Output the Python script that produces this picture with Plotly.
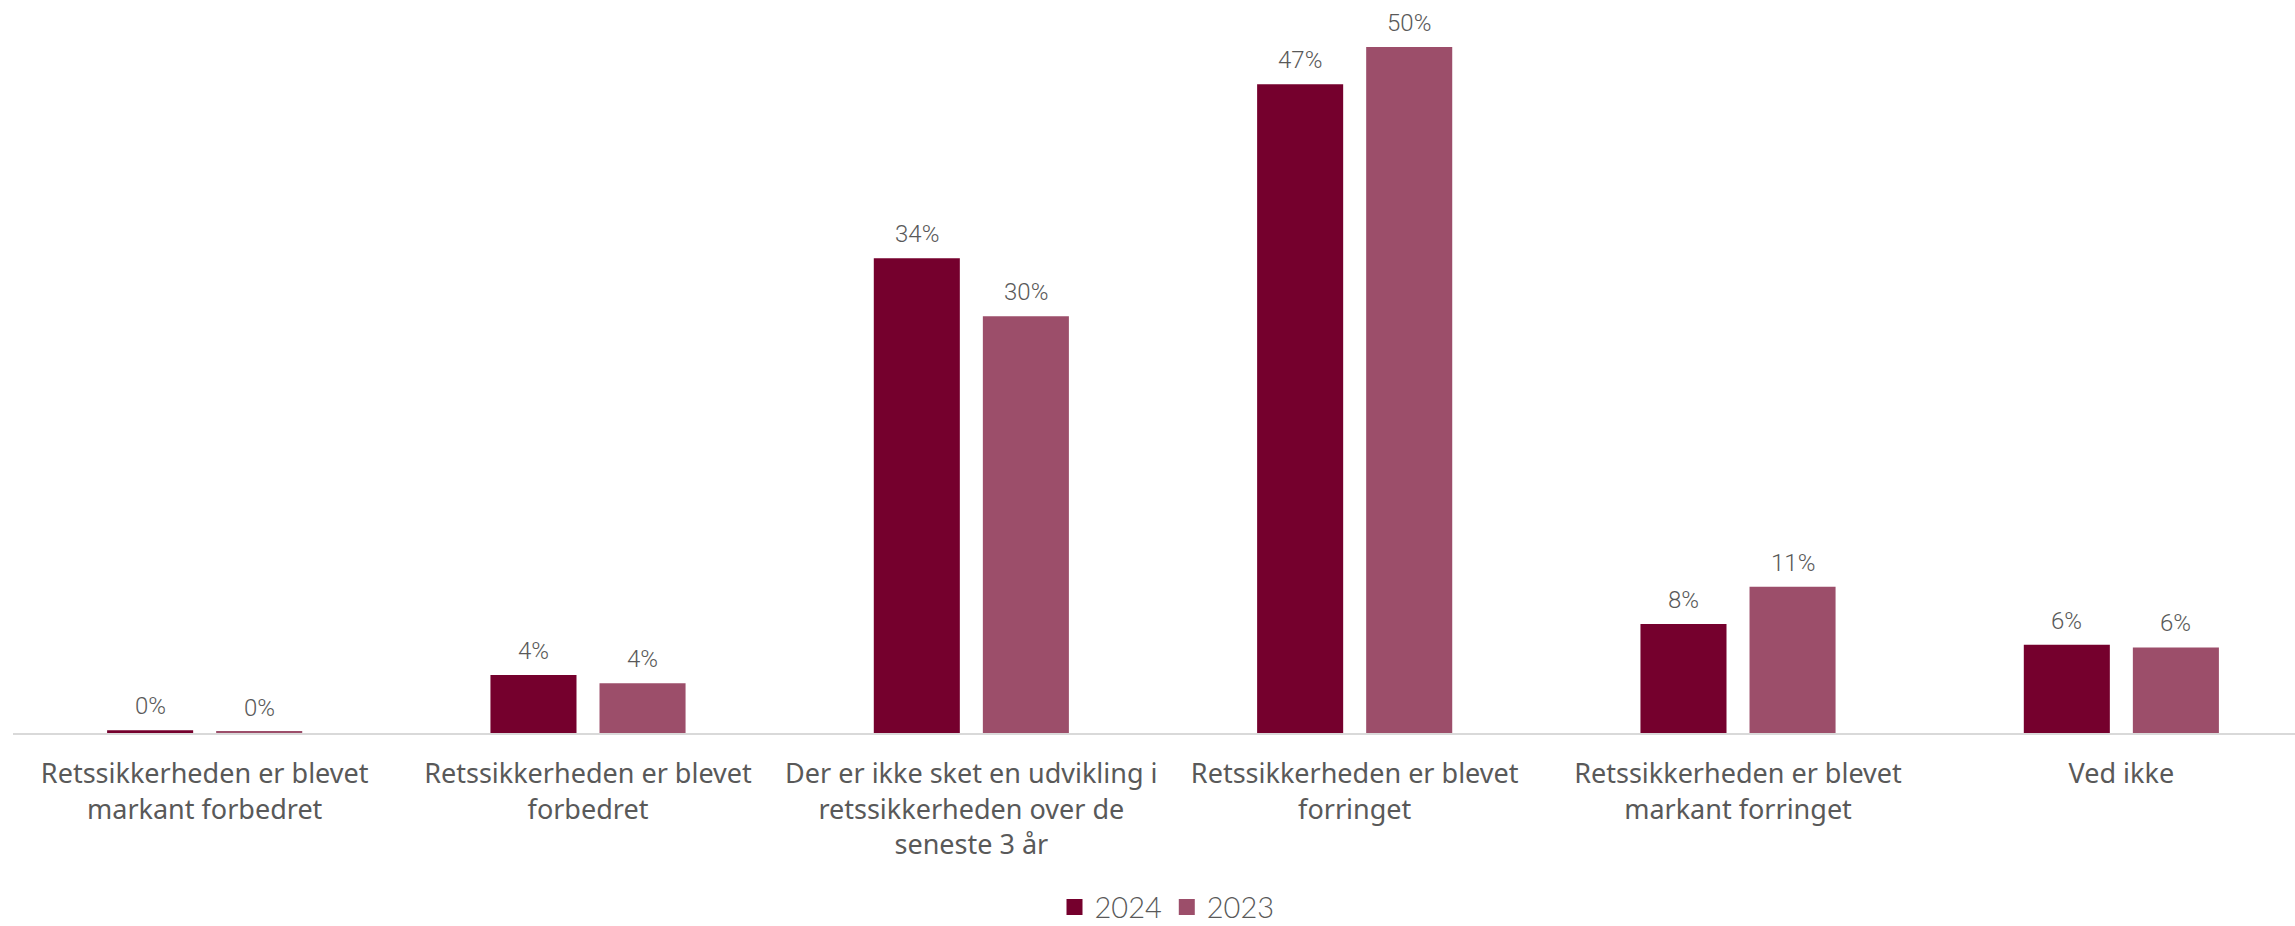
import plotly.graph_objects as go

categories = [
    "Retssikkerheden er blevet<br>markant forbedret",
    "Retssikkerheden er blevet<br>forbedret",
    "Der er ikke sket en udvikling i<br>retssikkerheden over de<br>seneste 3 år",
    "Retssikkerheden er blevet<br>forringet",
    "Retssikkerheden er blevet<br>markant forringet",
    "Ved ikke",
]
values_2024 = [0.2, 4.2, 34.4, 47.0, 7.9, 6.4]
values_2023 = [0.1, 3.6, 30.2, 49.7, 10.6, 6.2]
series_names = ["2024", "2023"]
colors = ["#75002D", "#9C4E6A"]

BARGAP = 0.431
xs = list(range(len(categories)))

fig = go.Figure()
annotations = []
n = 2
for i, (name, vals, col) in enumerate(zip(series_names, [values_2024, values_2023], colors)):
    fig.add_trace(go.Bar(
        x=xs, y=vals, name=name, showlegend=False,
        marker=dict(color=col, line=dict(width=0)),
    ))
    # legend-only entry with a larger square swatch
    fig.add_trace(go.Scatter(
        x=[None], y=[None], mode="markers", name=name, showlegend=True,
        marker=dict(symbol="square", size=18, color=col),
    ))
    off = (i - (n - 1) / 2) * (1 - BARGAP) / n
    for x, v in zip(xs, vals):
        annotations.append(dict(
            x=x + off, y=v, xref="x", yref="y", text=f"{v:.0f}%",
            showarrow=False, yanchor="bottom", yshift=8,
            font=dict(family="Roboto", size=24, color="#595959", weight=300),
        ))

fig.update_layout(
    width=2295, height=926,
    margin=dict(l=13, r=0, t=18, b=193, autoexpand=False),
    paper_bgcolor="white", plot_bgcolor="white",
    barmode="group", bargap=BARGAP, bargroupgap=0.211,
    showlegend=True,
    annotations=annotations,
    legend=dict(orientation="h", x=0.5057, xanchor="center", y=-0.2434, yanchor="middle",
                font=dict(family="Lato", size=29, color="#595959", weight=300),
                traceorder="normal"),
    xaxis=dict(tickmode="array", tickvals=xs, ticktext=categories,
               range=[-0.5, 5.453], showgrid=False, zeroline=False, automargin=False,
               showline=True, linecolor="#D9D9D9", linewidth=2,
               ticks="", ticklabelstandoff=16,
               tickfont=dict(family="Noto Sans", size=27, color="#595959")),
    yaxis=dict(range=[0, 51.8], visible=False, fixedrange=True, automargin=False),
)

fig.write_html("out.html", config={"displayModeBar": False},
               post_script="document.body.style.margin='0';document.body.style.padding='0';")
